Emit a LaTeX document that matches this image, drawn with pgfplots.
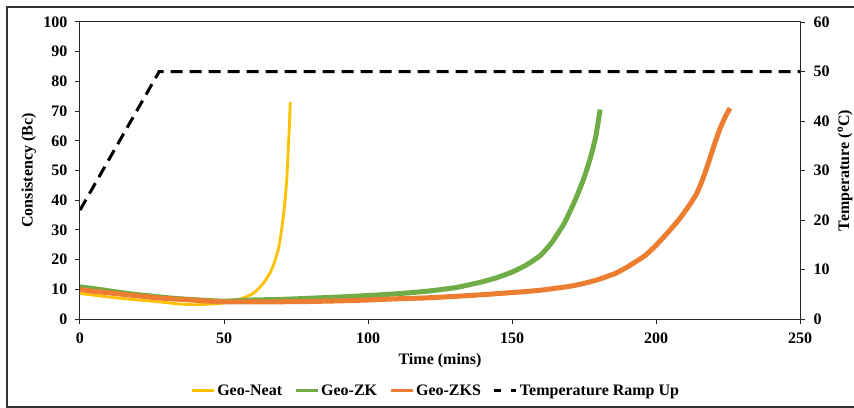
\documentclass[border=0pt]{standalone}
\usepackage{fontspec}
\setmainfont{Liberation Serif}
\usepackage{pgfplots}
\pgfplotsset{compat=1.18}
\definecolor{cneat}{HTML}{FFC000}
\definecolor{czk}{HTML}{70AD47}
\definecolor{czks}{HTML}{ED7D31}
\newcommand{\chartfont}{\fontsize{16bp}{18bp}\selectfont\bfseries}
\begin{document}
\begin{tikzpicture}
\begin{axis}[
  at={(0,0)}, anchor=south west, scale only axis,
  width=720bp, height=297bp,
  xmin=0, xmax=250, ymin=0, ymax=100,
  xtick={0,50,...,250}, ytick={0,10,...,100},
  xtick pos=left, ytick pos=left, tick align=outside,
  major tick length=5bp,
  axis line style={line width=1bp, black!85},
  tick style={line width=1bp, black!85},
  /pgf/number format/assume math mode=true,
  tick label style={font=\chartfont},
  xticklabel style={yshift=-5bp},
  yticklabel style={xshift=-4bp},
  xlabel={Time (mins)}, ylabel={Consistency (Bc)},
  every axis x label/.style={at={(axis description cs:0.5,-0.141)}, anchor=center, font=\chartfont},
  every axis y label/.style={at={(axis description cs:-0.071,0.5)}, rotate=90, anchor=center, font=\chartfont},
  legend style={at={(axis description cs:0.494,-0.242)}, anchor=center, draw=none,
    font=\chartfont, legend columns=4,
    /tikz/every even column/.append style={column sep=10bp}},
  legend image code/.code={\draw[#1] (0bp,0bp) -- (22bp,0bp);},
  line join=round,
]
\addplot[cneat, line width=2.8bp, forget plot, smooth, tension=0.3] coordinates {
(0,8.6) (5,8.0) (10,7.4) (15,6.9) (20,6.4) (25,6.0) (30,5.5) (35,5.0) (40,4.8) (45,5.0)
(50,5.4) (55,6.5) (58,7.6) (60,8.5) (62,10.2) (64,12.5) (66,15.5) (67.5,19) (69,24)
(70,30) (71,38) (71.8,47) (72.3,57) (72.7,65) (73,73)};
\addplot[czk, line width=5bp, forget plot, smooth, tension=0.3] coordinates {
(0,10.8) (5,10.2) (10,9.5) (15,8.8) (20,8.2) (25,7.7) (30,7.2) (35,6.8) (40,6.5) (45,6.2)
(50,6.0) (55,6.2) (60,6.4) (70,6.6) (80,7.0) (90,7.4) (100,7.9) (110,8.5) (120,9.3)
(130,10.5) (135,11.5) (140,12.6) (145,14.0) (150,15.8) (155,18.2) (160,21.5) (164,26)
(168,32) (171,38) (173,42.5) (175,47.5) (177,53.5) (179,61) (180.6,70.5)};
\addplot[czks, line width=5bp, forget plot, smooth, tension=0.3] coordinates {
(0,9.9) (5,9.3) (10,8.8) (15,8.3) (20,7.8) (25,7.3) (30,6.9) (35,6.6) (40,6.3) (45,6.0)
(50,5.8) (60,5.8) (70,5.8) (80,5.9) (90,6.1) (100,6.4) (110,6.8) (120,7.1) (130,7.6)
(140,8.2) (150,8.9) (160,9.7) (170,11.0) (175,12.0) (180,13.3) (186,15.4) (190,17.5)
(196,21.2) (200,24.8) (204,29) (208,33.5) (211,37.5) (214,42) (216,46.5) (218,52)
(220,58) (222,63.5) (224,68) (225.7,71)};
\addlegendimage{cneat, line width=3bp}
\addlegendentry{Geo-Neat}
\addlegendimage{czk, line width=3bp}
\addlegendentry{Geo-ZK}
\addlegendimage{czks, line width=3bp}
\addlegendentry{Geo-ZKS}
\addlegendimage{black, line width=3bp, dash pattern=on 7bp off 10bp}
\addlegendentry{Temperature Ramp Up}
\end{axis}
\begin{axis}[
  at={(0,0)}, anchor=south west, scale only axis,
  width=720bp, height=297bp,
  xmin=0, xmax=250, ymin=0, ymax=60,
  axis x line=none, axis y line*=right,
  ytick={0,10,...,60}, tick align=outside,
  major tick length=5bp,
  axis line style={line width=1bp, black!85},
  tick style={line width=1bp, black!85},
  /pgf/number format/assume math mode=true,
  tick label style={font=\chartfont},
  yticklabel style={xshift=5bp},
  ylabel={Temperature (\textsuperscript{o}C)},
  every axis y label/.style={at={(axis description cs:1.0625,0.5)}, rotate=90, anchor=center, font=\chartfont},
]
\addplot[black, line width=3bp, dash pattern=on 12bp off 7bp] coordinates {
(0,22) (27.5,50) (250,50)};
\end{axis}
\draw[line width=1.5bp, black!80] (776bp,312bp) -- (-73bp,312bp) -- (-73bp,-88bp) -- (776bp,-88bp);
\pgfresetboundingbox
\path[use as bounding box] (-80bp,-89bp) rectangle (774bp,319bp);
\end{tikzpicture}
\end{document}
